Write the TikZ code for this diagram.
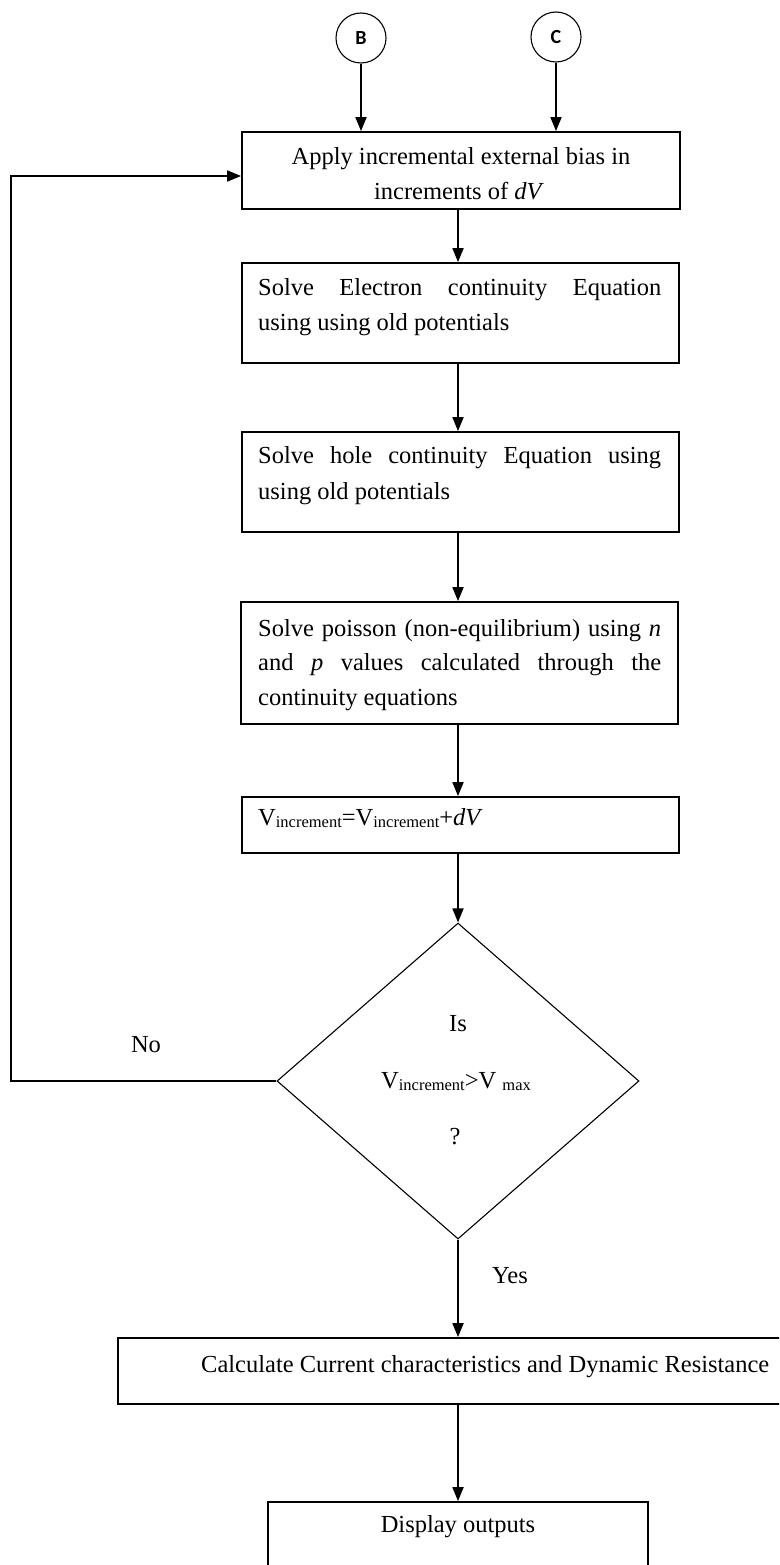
\documentclass[tikz,border=0pt]{standalone}
\usepackage{fontspec}
\setmainfont{Liberation Serif}
\newfontfamily\labelfont{Carlito}
\usetikzlibrary{arrows.meta,shapes.geometric}

% small lowered text used for the subscripts of V
\newcommand\subtxt[1]{\raisebox{-2pt}{\fontsize{16.5}{16.5}\selectfont #1}}

\begin{document}
\begin{tikzpicture}[x=1pt,y=-1pt,
  box/.style={draw,rectangle,line width=1.8pt,inner sep=0pt},
  conn/.style={draw,circle,line width=1.1pt,minimum size=50pt,inner sep=0pt,
    font=\labelfont\bfseries\fontsize{20}{20}\selectfont},
  decision/.style={draw,diamond,line width=1.1pt,inner sep=0pt,
    minimum width=362pt,minimum height=316pt},
  line/.style={inner sep=0pt,anchor=base west,font=\fontsize{24.5}{35}\selectfont},
  cline/.style={inner sep=0pt,anchor=base,font=\fontsize{24.5}{35}\selectfont},
  flow/.style={line width=1.8pt,-{Triangle[length=14pt,width=11pt]}},
]
\useasboundingbox (0,0) rectangle (779,1565);
\clip (0,0) rectangle (779,1565);

% connectors from the previous page
\node[conn] (B) at (361,38) {B};
\node[conn] (C) at (556,37) {C};

% process boxes
\node[box,minimum width=438pt,minimum height=77pt] (apply) at (461,170.5) {};
\node[box,minimum width=437pt,minimum height=100pt] (elec) at (460.5,313) {};
\node[box,minimum width=437pt,minimum height=100pt] (hole) at (460.5,482) {};
\node[box,minimum width=437pt,minimum height=122pt] (pois) at (459.5,663) {};
\node[box,minimum width=437pt,minimum height=56pt] (vinc) at (460.5,825) {};
\node[decision] (dec) at (458,1081) {};
\node[box,minimum width=682pt,minimum height=66pt] (calc) at (459,1371) {};
\node[box,minimum width=380pt,minimum height=90pt] (disp) at (458,1547) {};

% box texts
\node[cline] (apply1) at (461,165) {Apply incremental external bias in};
\node[cline] (apply2) at (459,200) {increments of \textit{dV}};

\node[line] (elec1) at (258,295) {\makebox[403pt][s]{Solve Electron continuity Equation}};
\node[line] (elec2) at (258,330) {using using old potentials};

\node[line] (hole1) at (258,463) {\makebox[403pt][s]{Solve hole continuity Equation using}};
\node[line] (hole2) at (258,499) {using old potentials};

\node[line] (pois1) at (258,636) {\makebox[403pt][s]{Solve poisson (non-equilibrium) using \textit{n}}};
\node[line] (pois2) at (258,670.5) {\makebox[403pt][s]{and \textit{p} values calculated through the}};
\node[line] (pois3) at (258,705) {continuity equations};

\node[line] (vinct) at (258,825) {V\subtxt{increment}=V\subtxt{increment}+\textit{dV}};

\node[cline] (is) at (458,1031) {Is};
\node[cline] (cmp) at (456,1088) {V\subtxt{increment}>V \subtxt{max}};
\node[cline] (q) at (455,1144) {?};

\node[cline] (no) at (146,1052) {No};
\node[cline] (yes) at (510,1283) {Yes};

\node[line] (calct) at (201,1372) {Calculate Current characteristics and Dynamic Resistance};
\node[cline] (dispt) at (458,1532) {Display outputs};

% flow
\coordinate (loopx) at (11,0);
\draw[flow] (B) -- (B |- apply.north);
\draw[flow] (C) -- (C |- apply.north);
\draw[flow] (apply.south -| dec.north) -- (elec.north -| dec.north);
\draw[flow] (elec.south -| dec.north) -- (hole.north -| dec.north);
\draw[flow] (hole.south -| dec.north) -- (pois.north -| dec.north);
\draw[flow] (pois.south -| dec.north) -- (vinc.north -| dec.north);
\draw[flow] (vinc.south -| dec.north) -- (dec.north);
\draw[flow] (dec.south) -- (calc.north -| dec.south);
\draw[flow] (calc.south -| dec.south) -- (disp.north -| dec.south);
\draw[flow] (dec.west) -- (dec.west -| loopx) |- ([yshift=-5.5pt]apply.west);
\end{tikzpicture}
\end{document}
